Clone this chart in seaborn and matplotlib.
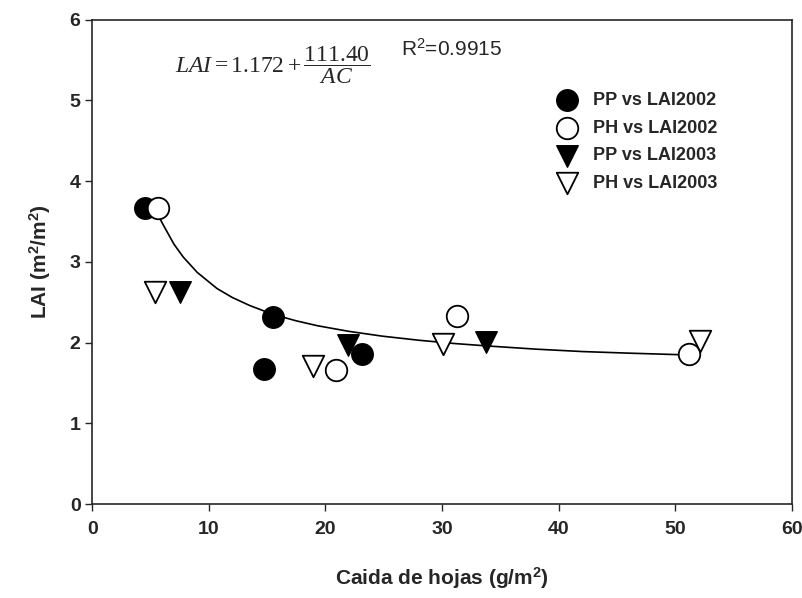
import seaborn as sns
import matplotlib.pyplot as plt
import pandas as pd

# Datos
pp02_x = [4.5, 15.5, 14.7, 23.1]
pp02_y = [3.67, 2.32, 1.67, 1.86]
ph02_x = [5.6, 20.9, 31.3, 51.2]
ph02_y = [3.67, 1.66, 2.33, 1.86]
pp03_x = [7.5, 21.9, 33.8]
pp03_y = [2.63, 1.97, 2.01]
ph03_x = [5.4, 18.9, 30.1, 52.1]
ph03_y = [2.63, 1.71, 1.98, 2.02]

# Curva ajustada (puntos leidos sobre la linea)
curva_x = [5.4, 6.0, 7.0, 7.8, 9.0, 10.7, 12.0, 13.5, 15.5, 17.5, 19.3, 22.0, 24.9, 28.0, 31.0, 33.8, 38.0, 42.0, 46.0, 50.6]
curva_y = [3.65, 3.48, 3.22, 3.06, 2.87, 2.67, 2.56, 2.46, 2.35, 2.27, 2.21, 2.14, 2.08, 2.03, 1.99, 1.96, 1.92, 1.89, 1.87, 1.85]

sns.set_style("ticks")
plt.rcParams["font.family"] = ["Liberation Sans", "DejaVu Sans"]
plt.rcParams["mathtext.fontset"] = "custom"
plt.rcParams["mathtext.rm"] = "Liberation Serif"
plt.rcParams["mathtext.it"] = "Liberation Serif:italic"
plt.rcParams["mathtext.bf"] = "Liberation Sans:bold"
plt.rcParams["mathtext.sf"] = "Liberation Sans"

fig = plt.figure(figsize=(8.03, 5.98), dpi=100)
ax = fig.add_axes([0.115, 0.157, 0.871, 0.810])

sns.lineplot(x=curva_x, y=curva_y, sort=False, color="black", linewidth=1.2, ax=ax)

h1 = ax.scatter(pp02_x, pp02_y, s=240, marker="o", facecolor="black", edgecolor="black", zorder=3)
h2 = ax.scatter(ph02_x, ph02_y, s=240, marker="o", facecolor="white", edgecolor="black", linewidth=1.3, zorder=3)
h3 = ax.scatter(pp03_x, pp03_y, s=240, marker="v", facecolor="black", edgecolor="black", zorder=3)
h4 = ax.scatter(ph03_x, ph03_y, s=240, marker="v", facecolor="white", edgecolor="black", linewidth=1.3, zorder=3)

ax.set_xlim(0, 60)
ax.set_ylim(0, 6)
ax.set_xticks(range(0, 61, 10))
ax.set_yticks(range(0, 7))
ax.tick_params(direction="out", length=5, width=1, labelsize=14)
ax.tick_params(axis="x", pad=7)
for lab in ax.get_xticklabels() + ax.get_yticklabels():
    lab.set_fontweight("bold")
for sp in ax.spines.values():
    sp.set_visible(True)
    sp.set_linewidth(1.2)

ax.set_xlabel(r"Caida de hojas (g/m$^\mathbf{2}$)", fontsize=15, fontweight="bold", labelpad=20)
ax.set_ylabel(r"LAI (m$^\mathbf{2}$/m$^\mathbf{2}$)", fontsize=15, fontweight="bold", labelpad=12)

ax.text(0.118, 0.905, r"$LAI=1.172+\dfrac{111.40}{AC}$", transform=ax.transAxes, fontsize=17, va="center")
ax.text(0.442, 0.94, r"R$^\mathsf{2}$=0.9915", transform=ax.transAxes, fontsize=15, va="center")

leg = ax.legend([h1, h2, h3, h4],
                ["PP vs LAI2002", "PH vs LAI2002", "PP vs LAI2003", "PH vs LAI2003"],
                loc="upper left", bbox_to_anchor=(0.63, 0.885), frameon=False,
                prop={"weight": "bold", "size": 13}, handletextpad=0.45, labelspacing=0.6,
                scatterpoints=1)

fig.savefig("out.png", dpi=100)
